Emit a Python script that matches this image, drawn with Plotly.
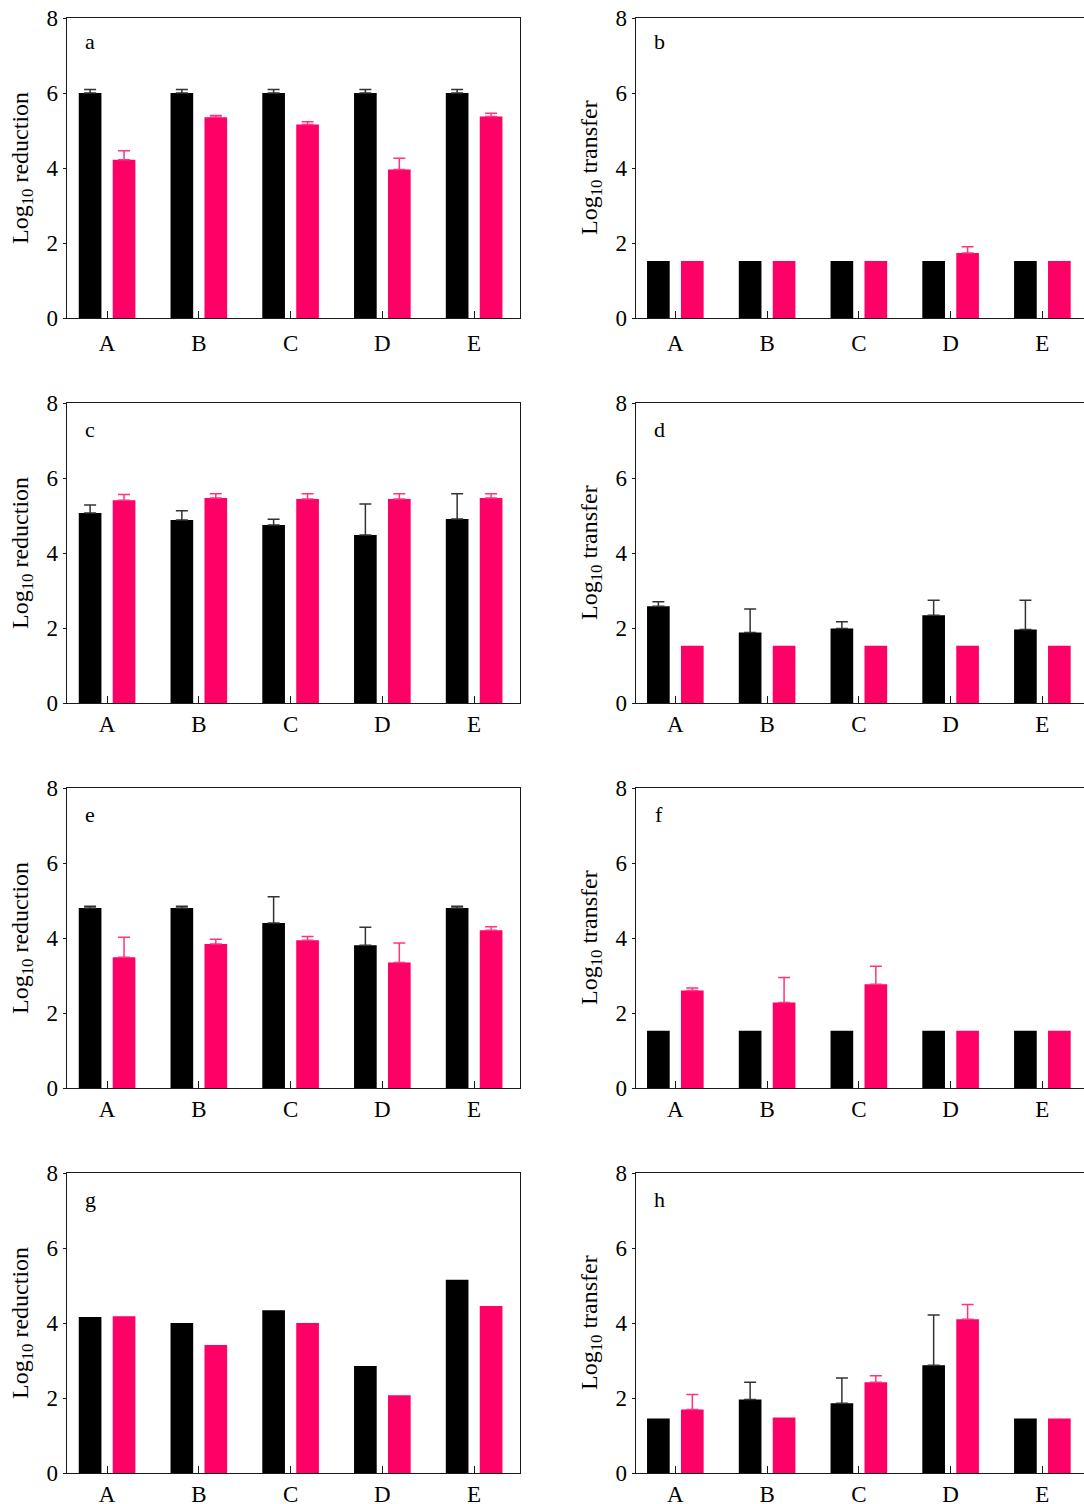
import plotly.graph_objects as go

categories = ["A", "B", "C", "D", "E"]
y_tick_vals = [0, 2, 4, 6, 8]
panel_letters = ["a", "b", "c", "d", "e", "f", "g", "h"]
y_titles = ["Log<sub>10</sub> reduction", "Log<sub>10</sub> transfer"]

# panel a
a_black = [6.0, 6.0, 6.0, 6.0, 6.0]
a_black_err = [0.09, 0.09, 0.09, 0.09, 0.09]
a_pink = [4.22, 5.35, 5.16, 3.96, 5.37]
a_pink_err = [0.24, 0.05, 0.07, 0.30, 0.09]
# panel b
b_black = [1.52, 1.52, 1.52, 1.52, 1.52]
b_black_err = [0, 0, 0, 0, 0]
b_pink = [1.52, 1.52, 1.52, 1.73, 1.52]
b_pink_err = [0, 0, 0, 0.17, 0]
# panel c
c_black = [5.07, 4.88, 4.75, 4.48, 4.91]
c_black_err = [0.21, 0.25, 0.15, 0.83, 0.67]
c_pink = [5.41, 5.47, 5.44, 5.44, 5.47]
c_pink_err = [0.15, 0.11, 0.14, 0.14, 0.11]
# panel d
d_black = [2.58, 1.88, 1.99, 2.34, 1.96]
d_black_err = [0.12, 0.63, 0.18, 0.40, 0.78]
d_pink = [1.53, 1.53, 1.53, 1.53, 1.53]
d_pink_err = [0, 0, 0, 0, 0]
# panel e
e_black = [4.80, 4.80, 4.40, 3.81, 4.80]
e_black_err = [0.05, 0.05, 0.70, 0.48, 0.05]
e_pink = [3.49, 3.84, 3.94, 3.35, 4.21]
e_pink_err = [0.53, 0.13, 0.10, 0.52, 0.09]
# panel f
f_black = [1.53, 1.53, 1.53, 1.53, 1.53]
f_black_err = [0, 0, 0, 0, 0]
f_pink = [2.60, 2.28, 2.77, 1.53, 1.53]
f_pink_err = [0.07, 0.67, 0.48, 0, 0]
# panel g
g_black = [4.16, 4.00, 4.34, 2.85, 5.15]
g_black_err = [0, 0, 0, 0, 0]
g_pink = [4.18, 3.41, 4.00, 2.07, 4.45]
g_pink_err = [0, 0, 0, 0, 0]
# panel h
h_black = [1.45, 1.96, 1.86, 2.87, 1.45]
h_black_err = [0, 0.46, 0.67, 1.34, 0]
h_pink = [1.69, 1.48, 2.42, 4.10, 1.45]
h_pink_err = [0.40, 0, 0.17, 0.39, 0]

panels = [
    (a_black, a_black_err, a_pink, a_pink_err),
    (b_black, b_black_err, b_pink, b_pink_err),
    (c_black, c_black_err, c_pink, c_pink_err),
    (d_black, d_black_err, d_pink, d_pink_err),
    (e_black, e_black_err, e_pink, e_pink_err),
    (f_black, f_black_err, f_pink, f_pink_err),
    (g_black, g_black_err, g_pink, g_pink_err),
    (h_black, h_black_err, h_pink, h_pink_err),
]

W, H = 1084, 1504
FONT = "Liberation Serif"
BLACK = "#000000"
PINK = "#FF0066"
PINK_ERR = "#FF3380"
AXIS_COL = "#1a1a1a"

row_tops = [18, 403, 788, 1173]
label_standoff = [4, 0, 0, 0]
letter_offset = [23, 27, 26, 26]
panel_h = 300
left_x = (66.7, 520.0)
right_x = (635.7, 1084.0)
px_per_unit = (520.0 - 66.7) / 4.94
left_range = [-0.44, 4.50]
right_start = -0.432
right_range = [right_start, right_start + (1084.0 - 635.7) / px_per_unit]

bar_w = 0.247
black_offset = -0.185 - bar_w / 2
pink_offset = 0.185 - bar_w / 2

fig = go.Figure()
annotations = []


def err(e, color):
    if any(v > 0 for v in e):
        plus = [v if v > 0 else "NaN" for v in e]
        minus = [0 if v > 0 else "NaN" for v in e]
        return dict(type="data", array=plus, arrayminus=minus, symmetric=False,
                    color=color, thickness=1.5, width=6, visible=True)
    return dict(visible=False)


for idx, (bk, bk_e, pk, pk_e) in enumerate(panels):
    row = idx // 2
    col = idx % 2
    n = idx + 1
    xa = "x" if n == 1 else f"x{n}"
    ya = "y" if n == 1 else f"y{n}"

    fig.add_trace(go.Bar(x=categories, y=bk, xaxis=xa, yaxis=ya, marker_color=BLACK,
                         marker_line_width=0, width=bar_w, offset=black_offset,
                         error_y=err(bk_e, "#333333"), showlegend=False))
    fig.add_trace(go.Bar(x=categories, y=pk, xaxis=xa, yaxis=ya, marker_color=PINK,
                         marker_line_width=0, width=bar_w, offset=pink_offset,
                         error_y=err(pk_e, PINK_ERR), showlegend=False))

    top = row_tops[row]
    y0 = 1 - (top + panel_h) / H
    y1 = 1 - top / H
    xd = left_x if col == 0 else right_x
    xdom = [xd[0] / W, min(xd[1] / W, 1.0)]

    xkey = "xaxis" if n == 1 else f"xaxis{n}"
    ykey = "yaxis" if n == 1 else f"yaxis{n}"
    fig.update_layout(**{
        xkey: dict(domain=xdom, anchor=ya, type="category",
                   range=left_range if col == 0 else right_range,
                   showline=True, linecolor=AXIS_COL, linewidth=1.3, mirror=True,
                   ticks="inside", ticklen=7, tickwidth=1.2, tickcolor=AXIS_COL,
                   ticklabelstandoff=label_standoff[row],
                   showgrid=False, zeroline=False, automargin=False,
                   tickfont=dict(family=FONT, size=23, color="#000")),
        ykey: dict(domain=[y0, y1], anchor=xa, range=[0, 8], tickvals=y_tick_vals,
                   showline=True, linecolor=AXIS_COL, linewidth=1.3,
                   mirror=(col == 0),
                   ticks="outside", ticklen=3, tickwidth=1, tickcolor=AXIS_COL,
                   showgrid=False, zeroline=False, automargin=False,
                   tickfont=dict(family=FONT, size=23, color="#000")),
    })

    annotations.append(dict(text=panel_letters[idx], xref="paper", yref="paper",
                            x=(90 if col == 0 else 659) / W,
                            y=1 - (top + letter_offset[row]) / H,
                            xanchor="center", yanchor="middle", showarrow=False,
                            font=dict(family=FONT, size=22, color="#000")))
    annotations.append(dict(text=y_titles[col], xref="paper", yref="paper",
                            x=(22 if col == 0 else 591) / W, y=1 - (top + 150) / H,
                            xanchor="center", yanchor="middle", textangle=-90,
                            showarrow=False,
                            font=dict(family=FONT, size=24, color="#000")))

fig.update_layout(width=W, height=H, margin=dict(l=0, r=0, t=0, b=0),
                  paper_bgcolor="white", plot_bgcolor="white",
                  barmode="overlay", annotations=annotations,
                  font=dict(family=FONT, size=22, color="#000"))

fig.write_html("out.html", config={"displayModeBar": False},
               post_script="document.body.style.margin='0';document.body.style.overflow='hidden';")
